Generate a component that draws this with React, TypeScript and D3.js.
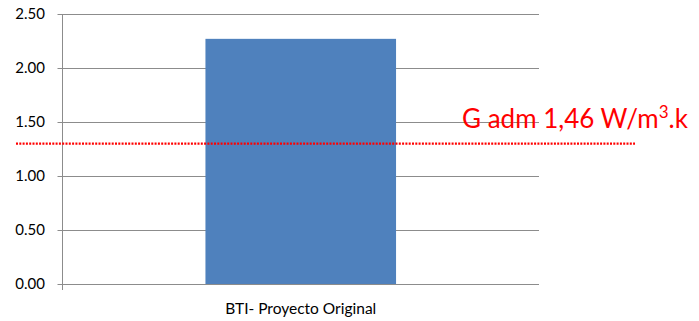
import React from "react";
import * as d3 from "d3";

const categories = ["BTI- Proyecto Original"];
const values = [2.27];
const yTicks = [0, 0.5, 1.0, 1.5, 2.0, 2.5];
const thresholdValue = 1.3;
const thresholdLabel = "G adm 1,46 W/m";

export default function App() {
  const W = 699, H = 321;
  const left = 62.5, right = 539, top = 14, bottom = 284;
  const y = d3.scaleLinear().domain([0, 2.5]).range([bottom, top]);
  const x = d3.scaleBand().domain(categories).range([left, right]).paddingInner(0.6).paddingOuter(0.3);
  const font = "Lato, 'Open Sans', sans-serif";
  return (
    <svg width={W} height={H} style={{ position: "absolute", left: 0, top: 0, background: "#fff" }}>
      {yTicks.map((t) => (
        <g key={t}>
          <line x1={left - 5} x2={right} y1={Math.round(y(t)) + 0.5} y2={Math.round(y(t)) + 0.5} stroke="#8c8c8c" strokeWidth={1} />
          <text x={45} y={y(t) + 5} textAnchor="end" fontFamily={font} fontSize={15} fill="#000">{d3.format(".2f")(t)}</text>
        </g>
      ))}
      <line x1={left} x2={left} y1={top} y2={bottom + 6} stroke="#8c8c8c" strokeWidth={1} />
      {categories.map((c, i) => (
        <g key={c}>
          <rect x={x(c)} y={y(values[i])} width={x.bandwidth()} height={bottom - y(values[i])} fill="#4f81bd" />
          <text x={(x(c) as number) + x.bandwidth() / 2} y={314} textAnchor="middle" fontFamily={font} fontSize={15.5} fill="#000">{c}</text>
        </g>
      ))}
      <line x1={16} x2={635} y1={y(thresholdValue)} y2={y(thresholdValue)} stroke="#ff0000" strokeWidth={2.2} strokeDasharray="2,1.3" />
      <text x={462} y={128} fontFamily={font} fontSize={26} fill="#ff0000">
        {thresholdLabel}
        <tspan dy={-10} fontSize={17}>3</tspan>
        <tspan dy={10}>.k</tspan>
      </text>
    </svg>
  );
}
